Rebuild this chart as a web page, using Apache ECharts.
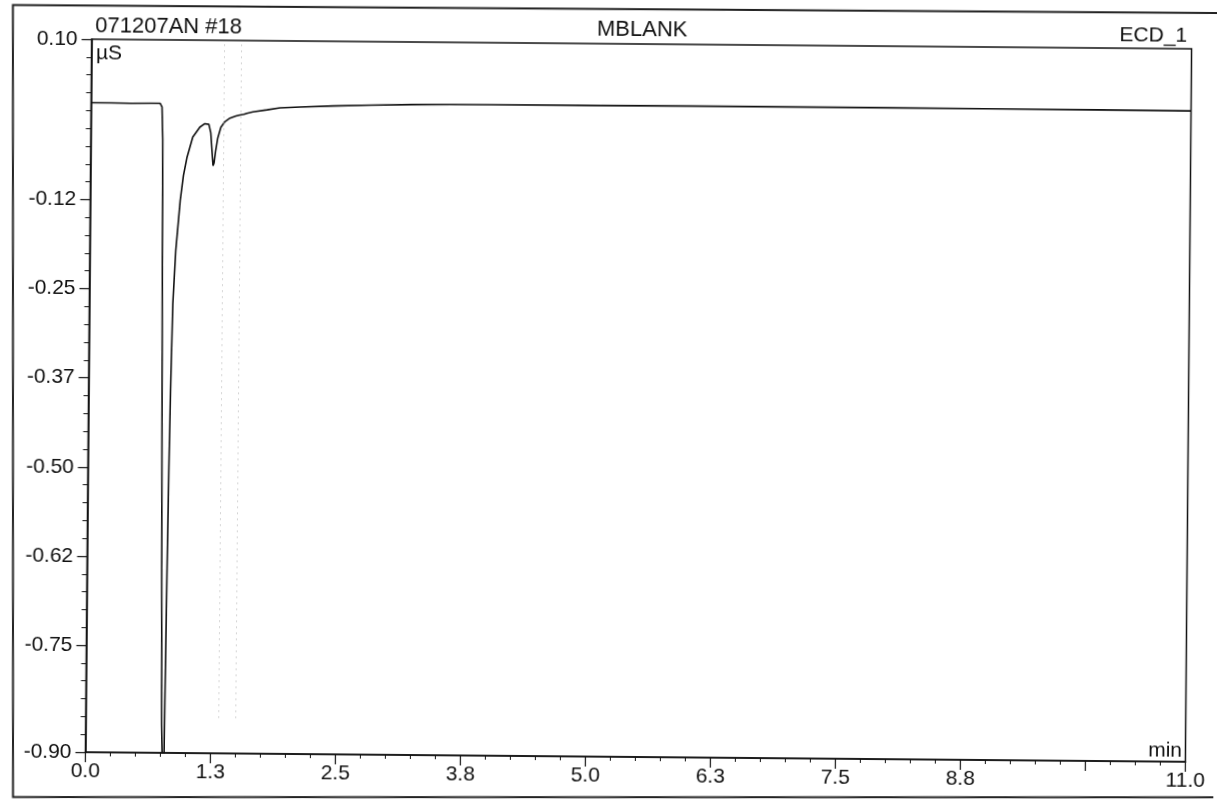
<!DOCTYPE html>
<html><head><meta charset="utf-8">
<script src="https://cdn.jsdelivr.net/npm/echarts@6/dist/echarts.min.js"></script>
<style>
html,body{margin:0;padding:0;background:#fff;}
#chart{width:1217px;height:808px;transform:rotate(0.5deg);transform-origin:638.5px 400.5px;}
</style></head><body><div id="chart"></div>
<script>
// ---- data (retention time in min, conductivity in µS) ----
const times = [0, 0.2, 0.4, 0.6, 0.69, 0.71, 0.72, 0.73, 0.745, 0.76, 0.775, 0.785, 0.79, 0.80, 0.81, 0.82, 0.835, 0.86, 0.90, 0.93, 0.965, 1.02, 1.09, 1.14, 1.16, 1.18, 1.20, 1.215, 1.225, 1.235, 1.25, 1.27, 1.30, 1.34, 1.39, 1.45, 1.49, 1.51, 1.53, 1.56, 1.62, 1.76, 1.89, 2.09, 2.42, 2.8, 3.2, 3.6, 4.0, 5.0, 6.0, 7.0, 8.0, 9.0, 10.0, 11.0];
const values = [0.011, 0.011, 0.0105, 0.011, 0.011, 0.006, -0.04, -0.28, -0.6, -0.86, -0.95, -0.93, -0.83, -0.65, -0.50, -0.39, -0.27, -0.195, -0.125, -0.09, -0.064, -0.036, -0.022, -0.017, -0.016, -0.018, -0.03, -0.058, -0.076, -0.072, -0.055, -0.037, -0.022, -0.014, -0.009, -0.006, -0.0045, -0.005, -0.0035, -0.002, 0.0, 0.003, 0.006, 0.0075, 0.0093, 0.011, 0.0122, 0.0127, 0.013, 0.0132, 0.0135, 0.0135, 0.0137, 0.0134, 0.0132, 0.0128];
const xLabelValues = [0, 1.25, 2.5, 3.75, 5, 6.25, 7.5, 8.75, 11];
const xLabelTexts = ['0.0', '1.3', '2.5', '3.8', '5.0', '6.3', '7.5', '8.8', '11.0'];
const xMajorTicks = [0, 1.25, 2.5, 3.75, 5, 6.25, 7.5, 8.75, 10, 11];
const yLabelValues = [0.1, -0.125, -0.25, -0.375, -0.5, -0.625, -0.75, -0.9];
const yLabelTexts = ['0.10', '-0.12', '-0.25', '-0.37', '-0.50', '-0.62', '-0.75', '-0.90'];
const markerTimes = [1.33, 1.50];
const titleLeft = '071207AN #18';
const titleCenter = 'MBLANK';
const titleRight = 'ECD_1';
const yUnit = 'µS';
const xUnit = 'min';

const FONT = "'Liberation Sans', Arial, sans-serif";
const INK = '#111';
function lookup(vals, texts) {
  return function (v) {
    for (let i = 0; i < vals.length; i++) if (Math.abs(vals[i] - v) < 1e-6) return texts[i];
    return '';
  };
}
const seriesData = times.map((t, i) => [t, values[i]]);
const axisLine = { show: true, onZero: false, lineStyle: { color: INK, width: 1.5 } };

const chart = echarts.init(document.getElementById('chart'), null, { renderer: 'canvas' });
chart.setOption({
  animation: false,
  backgroundColor: '#fff',
  grid: { left: 88.5, right: 28.5, top: 44, bottom: 51, show: true, borderColor: INK, borderWidth: 1.5, containLabel: false },
  xAxis: [
    { type: 'value', min: 0, max: 11, interval: 0.25, position: 'bottom',
      axisLine: axisLine,
      axisTick: { show: true, length: 4, lineStyle: { color: INK, width: 1 } },
      axisLabel: { show: true, customValues: xLabelValues, formatter: lookup(xLabelValues, xLabelTexts),
        margin: 9, color: INK, fontFamily: FONT, fontSize: 21 },
      splitLine: { show: false } },
    { type: 'value', min: 0, max: 11, position: 'bottom',
      axisLine: { show: false, onZero: false },
      axisTick: { show: true, customValues: xMajorTicks, length: 10, lineStyle: { color: INK, width: 1.2 } },
      axisLabel: { show: false }, splitLine: { show: false } }
  ],
  yAxis: [
    { type: 'value', min: -0.9, max: 0.1, interval: 0.025, position: 'left',
      axisLine: axisLine,
      axisTick: { show: true, length: 5, lineStyle: { color: INK, width: 1 } },
      axisLabel: { show: true, customValues: yLabelValues, formatter: lookup(yLabelValues, yLabelTexts),
        margin: 14, color: INK, fontFamily: FONT, fontSize: 21 },
      splitLine: { show: false } },
    { type: 'value', min: -0.9, max: 0.1, position: 'left',
      axisLine: { show: false, onZero: false },
      axisTick: { show: true, customValues: yLabelValues, length: 10, lineStyle: { color: INK, width: 1.2 } },
      axisLabel: { show: false }, splitLine: { show: false } }
  ],
  series: [{
    type: 'line', xAxisIndex: 0, yAxisIndex: 0, data: seriesData, showSymbol: false, symbol: 'none',
    clip: true, smooth: false,
    lineStyle: { color: INK, width: 1.6 },
    markLine: {
      silent: true, symbol: 'none', label: { show: false },
      lineStyle: { color: '#aaa', width: 1, type: [1, 5] },
      data: markerTimes.map(t => [{ coord: [t, -0.85] }, { coord: [t, 0.1] }])
    }
  }],
  graphic: [
    { type: 'polyline', silent: true, shape: { points: [[1240, 8], [9.5, 10.5], [16.5, 802.5], [1240, 792]] },
      style: { stroke: '#222', lineWidth: 2, fill: null } },
    { type: 'text', x: 92, y: 31, style: { text: titleLeft, font: "22px 'Liberation Sans', Arial", fill: INK, align: 'left', verticalAlign: 'middle' } },
    { type: 'text', x: 639, y: 30, style: { text: titleCenter, font: "22px 'Liberation Sans', Arial", fill: INK, align: 'center', verticalAlign: 'middle' } },
    { type: 'text', x: 1184, y: 31, style: { text: titleRight, font: "21px 'Liberation Sans', Arial", fill: INK, align: 'right', verticalAlign: 'middle' } },
    { type: 'text', x: 93, y: 58, style: { text: yUnit, font: "21px 'Liberation Sans', Arial", fill: INK, align: 'left', verticalAlign: 'middle' } },
    { type: 'text', x: 1185, y: 746, style: { text: xUnit, font: "21px 'Liberation Sans', Arial", fill: INK, align: 'right', verticalAlign: 'middle' } }
  ]
});
</script></body></html>
